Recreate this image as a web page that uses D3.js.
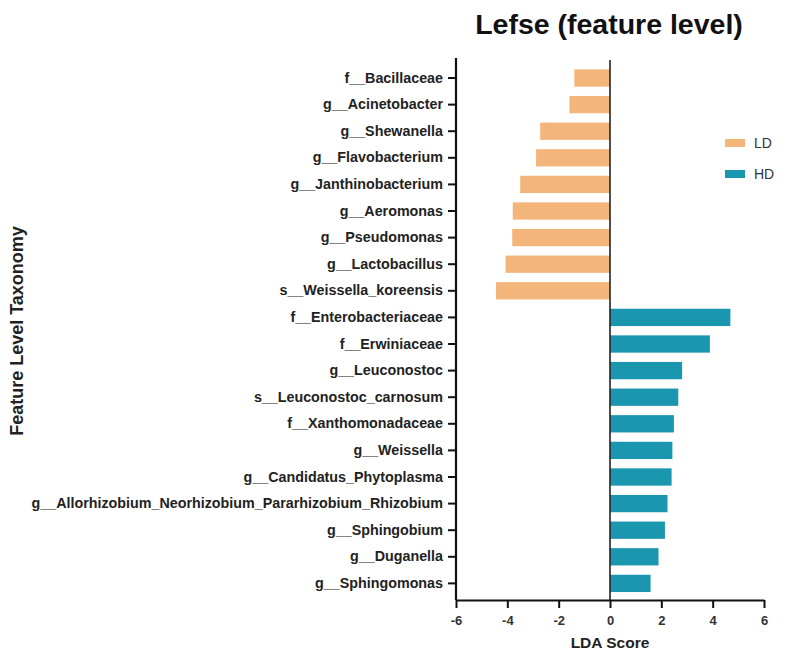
<!DOCTYPE html>
<html>
<head>
<meta charset="utf-8">
<script src="https://cdn.jsdelivr.net/npm/d3@7"></script>
<style>
  html, body { margin: 0; padding: 0; background: #fff; }
  svg { display: block; font-family: "Liberation Sans", Arial, sans-serif; }
</style>
</head>
<body>
<svg id="chart" width="809" height="654"></svg>
<script>
// LEfSe features, top to bottom
const features = [
  "f__Bacillaceae",
  "g__Acinetobacter",
  "g__Shewanella",
  "g__Flavobacterium",
  "g__Janthinobacterium",
  "g__Aeromonas",
  "g__Pseudomonas",
  "g__Lactobacillus",
  "s__Weissella_koreensis",
  "f__Enterobacteriaceae",
  "f__Erwiniaceae",
  "g__Leuconostoc",
  "s__Leuconostoc_carnosum",
  "f__Xanthomonadaceae",
  "g__Weissella",
  "g__Candidatus_Phytoplasma",
  "g__Allorhizobium_Neorhizobium_Pararhizobium_Rhizobium",
  "g__Sphingobium",
  "g__Duganella",
  "g__Sphingomonas"
];
// signed LDA score (negative = LD enriched, positive = HD enriched)
const ldaScores = [
  -1.39, -1.58, -2.72, -2.88, -3.50, -3.79, -3.81, -4.07, -4.44,
  4.69, 3.89, 2.81, 2.66, 2.49, 2.43, 2.40, 2.24, 2.14, 1.89, 1.58
];
const groups = [
  "LD","LD","LD","LD","LD","LD","LD","LD","LD",
  "HD","HD","HD","HD","HD","HD","HD","HD","HD","HD","HD"
];
const xTicks = [-6, -4, -2, 0, 2, 4, 6];
const xTickLabels = ["-6", "-4", "-2", "0", "2", "4", "6"];
const legendGroups = ["LD", "HD"];
const groupColors = { LD: "#F4B57B", HD: "#1A96AF" };

const rows = features.map((f, i) => ({ feature: f, score: ldaScores[i], group: groups[i] }));

const svg = d3.select("#chart");
const plotLeft = 456, plotRight = 764, plotTop = 58, plotBottom = 600;

const x = d3.scaleLinear().domain([-6, 6]).range([plotLeft, plotRight]);
const y = d3.scaleBand()
  .domain(features)
  .range([65, 596.4])
  .paddingInner(0.35)
  .paddingOuter(0.164);

// bars
svg.append("g").selectAll("rect")
  .data(rows)
  .join("rect")
  .attr("x", d => x(Math.min(0, d.score)))
  .attr("width", d => Math.abs(x(d.score) - x(0)))
  .attr("y", d => y(d.feature))
  .attr("height", y.bandwidth())
  .attr("fill", d => groupColors[d.group]);

// zero reference line
svg.append("line")
  .attr("x1", x(0)).attr("x2", x(0))
  .attr("y1", 60).attr("y2", plotBottom)
  .attr("stroke", "#222").attr("stroke-width", 1.6);

// y axis
const yAxis = svg.append("g")
  .attr("transform", `translate(${plotLeft},0)`)
  .call(d3.axisLeft(y).tickSize(8).tickPadding(5).tickSizeOuter(0));
yAxis.select(".domain").attr("stroke", "#111").attr("stroke-width", 2.2)
  .attr("d", `M0,${plotTop}V${plotBottom}`);
yAxis.selectAll(".tick line").attr("stroke", "#111").attr("stroke-width", 2);
yAxis.selectAll(".tick text")
  .attr("fill", "#222")
  .style("font-size", "14.3px").style("font-weight", "bold");

// x axis
const xAxis = svg.append("g")
  .attr("transform", `translate(0,${plotBottom})`)
  .call(d3.axisBottom(x).tickValues(xTicks)
    .tickFormat((d, i) => xTickLabels[i]).tickSize(8).tickPadding(8).tickSizeOuter(0));
xAxis.select(".domain").attr("stroke", "#111").attr("stroke-width", 2.2);
xAxis.selectAll(".tick line").attr("stroke", "#111").attr("stroke-width", 2);
xAxis.selectAll(".tick text")
  .attr("fill", "#333")
  .style("font-size", "13px").style("font-weight", "bold");

// axis titles
svg.append("text")
  .attr("x", (plotLeft + plotRight) / 2).attr("y", 648)
  .attr("text-anchor", "middle")
  .attr("fill", "#222")
  .style("font-size", "15.5px").style("font-weight", "bold")
  .text("LDA Score");

svg.append("text")
  .attr("transform", "translate(23,331) rotate(-90)")
  .attr("text-anchor", "middle")
  .attr("fill", "#222")
  .style("font-size", "18px").style("font-weight", "bold")
  .text("Feature Level Taxonomy");

// title
svg.append("text")
  .attr("x", 609).attr("y", 34)
  .attr("text-anchor", "middle")
  .attr("fill", "#111")
  .style("font-size", "28.5px").style("font-weight", "bold")
  .text("Lefse (feature level)");

// legend
const legend = svg.append("g");
legendGroups.forEach((g, i) => {
  const ly = 143 + i * 31;
  legend.append("rect")
    .attr("x", 725).attr("y", ly - 4).attr("width", 20).attr("height", 8)
    .attr("fill", groupColors[g]);
  legend.append("text")
    .attr("x", 754).attr("y", ly).attr("dy", "0.35em")
    .attr("fill", "#333")
    .style("font-size", "14px")
    .text(g);
});
</script>
</body>
</html>
